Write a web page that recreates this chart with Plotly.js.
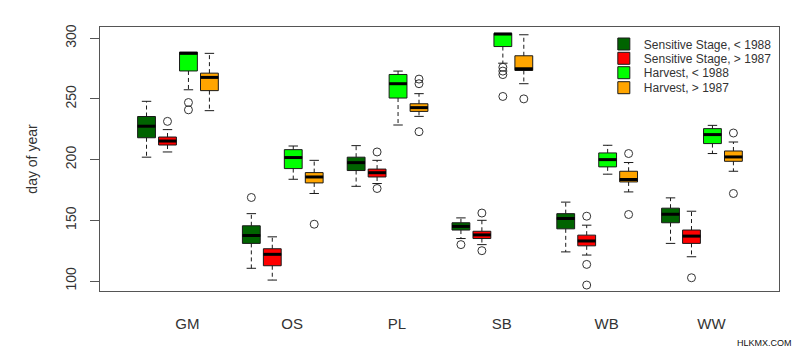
<!DOCTYPE html>
<html>
<head>
<meta charset="utf-8">
<script src="https://cdn.plot.ly/plotly-3.0.1.min.js"></script>
<style>html,body{margin:0;padding:0;background:#fff;}#chart{width:800px;height:353px;}</style>
</head>
<body>
<div id="chart"></div>
<script>
// ---- data ----
const groups = ['GM', 'OS', 'PL', 'SB', 'WB', 'WW'];
const seriesNames = ['Sensitive Stage, &lt; 1988', 'Sensitive Stage, &gt; 1987', 'Harvest, &lt; 1988', 'Harvest, &gt; 1987'];
const seriesColors = ['#006400', '#ff0000', '#00ff00', '#ffa500'];

// Sensitive Stage, < 1988
const sensEarlyLo  = [202.0, 110.5, 178.0, 135.0, 124.0, 131.0];
const sensEarlyQ1  = [218.0, 131.0, 191.0, 142.0, 143.0, 148.0];
const sensEarlyMed = [227.5, 137.5, 197.5, 145.0, 151.5, 155.0];
const sensEarlyQ3  = [235.5, 145.5, 202.0, 148.0, 155.5, 160.0];
const sensEarlyHi  = [248.0, 155.5, 211.5, 152.0, 165.0, 168.5];
const sensEarlyOut = [[], [168.8], [], [130.0], [], []];

// Sensitive Stage, > 1987
const sensLateLo  = [206.3, 100.8, 180.3, 130.0, 121.4, 120.0];
const sensLateQ1  = [212.0, 112.6, 185.7, 135.0, 129.0, 131.0];
const sensLateMed = [215.3, 122.0, 189.2, 138.0, 133.0, 137.0];
const sensLateQ3  = [218.6, 126.6, 192.2, 141.0, 137.8, 142.0];
const sensLateHi  = [224.7, 136.4, 199.4, 150.0, 146.0, 157.5];
const sensLateOut = [[231.5], [], [206.3, 176.2], [156.0, 125.0], [153.4, 113.7, 96.7], [102.7]];

// Harvest, < 1988
const harvEarlyLo  = [257.5, 183.8, 228.5, 279.4, 188.0, 205.0];
const harvEarlyQ1  = [273.0, 192.6, 250.7, 293.1, 194.0, 213.2];
const harvEarlyMed = [287.5, 201.7, 262.5, 303.4, 200.0, 220.6];
const harvEarlyQ3  = [288.5, 208.2, 270.1, 304.0, 205.5, 225.5];
const harvEarlyHi  = [288.5, 211.2, 272.9, 304.0, 211.8, 228.2];
const harvEarlyOut = [[247.0, 241.0], [], [], [276.0, 272.9, 270.0, 252.0], [], []];

// Harvest, > 1987
const harvLateLo  = [240.3, 172.1, 235.6, 262.5, 173.4, 190.4];
const harvLateQ1  = [256.8, 180.8, 239.7, 273.4, 181.6, 198.6];
const harvLateMed = [267.7, 185.7, 242.8, 274.8, 183.6, 202.2];
const harvLateQ3  = [271.2, 189.3, 246.0, 285.5, 190.4, 207.1];
const harvLateHi  = [287.5, 199.4, 254.3, 302.8, 197.6, 214.5];
const harvLateOut = [[], [146.8], [266.3, 262.5, 223.0], [250.0], [205.0, 154.8], [221.9, 172.1]];

const yTicks = [100, 150, 200, 250, 300];

// ---- layout helpers (positions / styles) ----
const series = [
  [sensEarlyLo, sensEarlyQ1, sensEarlyMed, sensEarlyQ3, sensEarlyHi, sensEarlyOut],
  [sensLateLo, sensLateQ1, sensLateMed, sensLateQ3, sensLateHi, sensLateOut],
  [harvEarlyLo, harvEarlyQ1, harvEarlyMed, harvEarlyQ3, harvEarlyHi, harvEarlyOut],
  [harvLateLo, harvLateQ1, harvLateMed, harvLateQ3, harvLateHi, harvLateOut]
];
const offsets = [-0.3, -0.1, 0.1, 0.3];
const boxW = 0.17;
const capHalf = 0.045;
const labelShift = 0.09;
const lineCol = '#1a1a1a';
const legendY = [0.9356, 0.8814, 0.8269, 0.7701];
const legendX = 0.742;

const traces = [];
const legends = {};
series.forEach((s, si) => {
  const [lo, q1, med, q3, hi, out] = s;
  const xs = groups.map((g, gi) => gi + 1 + offsets[si]);
  const lname = si === 0 ? 'legend' : 'legend' + (si + 1);
  traces.push({
    type: 'box', name: seriesNames[si], x: xs,
    q1: q1, median: med, q3: q3, lowerfence: q1, upperfence: q3,
    width: boxW, whiskerwidth: 0, boxpoints: false,
    fillcolor: seriesColors[si], line: {color: lineCol, width: 1},
    hoverinfo: 'skip', legend: lname
  });
  legends[lname] = {
    x: legendX, xanchor: 'left', y: legendY[si], yanchor: 'middle',
    bgcolor: 'rgba(0,0,0,0)', borderwidth: 0, itemwidth: 30,
    font: {family: 'Liberation Sans, Arial, sans-serif', size: 12, color: '#333'}
  };
  // dashed whiskers
  const wx = [], wy = [];
  const cx = [], cy = [];
  const mx = [], my = [];
  xs.forEach((x, i) => {
    if (hi[i] > q3[i]) { wx.push(x, x, null); wy.push(q3[i], hi[i], null); }
    if (lo[i] < q1[i]) { wx.push(x, x, null); wy.push(q1[i], lo[i], null); }
    if (hi[i] > q3[i]) { cx.push(x - capHalf, x + capHalf, null); cy.push(hi[i], hi[i], null); }
    if (lo[i] < q1[i]) { cx.push(x - capHalf, x + capHalf, null); cy.push(lo[i], lo[i], null); }
    mx.push(x - boxW / 2, x + boxW / 2, null); my.push(med[i], med[i], null);
  });
  traces.push({type: 'scatter', mode: 'lines', x: wx, y: wy, showlegend: false, hoverinfo: 'skip',
    line: {color: lineCol, width: 1, dash: '4px,3px'}});
  traces.push({type: 'scatter', mode: 'lines', x: cx, y: cy, showlegend: false, hoverinfo: 'skip',
    line: {color: lineCol, width: 1}});
  traces.push({type: 'scatter', mode: 'lines', x: mx, y: my, showlegend: false, hoverinfo: 'skip',
    line: {color: '#000', width: 3}});
  // outliers
  const ox = [], oy = [];
  xs.forEach((x, i) => { out[i].forEach(v => { ox.push(x); oy.push(v); }); });
  traces.push({type: 'scatter', mode: 'markers', x: ox, y: oy, showlegend: false, hoverinfo: 'skip',
    marker: {symbol: 'circle-open', size: 8, color: '#333', line: {width: 1, color: '#333'}}});
});

const font = 'Liberation Sans, Arial, sans-serif';
const layout = Object.assign({
  width: 800, height: 353,
  margin: {l: 100, r: 21, t: 27, b: 62},
  paper_bgcolor: '#fff', plot_bgcolor: '#fff',
  showlegend: true,
  xaxis: {
    range: [0.256, 6.735], showgrid: false, zeroline: false,
    showline: true, mirror: true, linecolor: '#555', linewidth: 1,
    tickmode: 'array', tickvals: groups.map((g, i) => i + 1 + labelShift), ticktext: groups,
    ticks: '', ticklabelstandoff: 19,
    tickfont: {family: font, size: 15, color: '#333'}
  },
  yaxis: {
    range: [91.8, 309.2], showgrid: false, zeroline: false,
    showline: true, mirror: true, linecolor: '#555', linewidth: 1,
    tickmode: 'array', tickvals: yTicks, ticktext: yTicks.map(String),
    ticks: 'outside', ticklen: 9, tickcolor: '#555', tickangle: -90, ticklabelstandoff: 8,
    tickfont: {family: font, size: 14, color: '#333'},
    title: {text: 'day of year', font: {family: font, size: 14, color: '#333'}, standoff: 22}
  },
  annotations: [{
    text: 'HLKMX.COM', xref: 'paper', yref: 'paper', x: 0.979, y: -0.197,
    xanchor: 'center', yanchor: 'middle', showarrow: false,
    font: {family: 'Liberation Sans Narrow, Liberation Sans, Arial, sans-serif', size: 9, color: '#111'}
  }]
}, legends);

Plotly.newPlot('chart', traces, layout, {staticPlot: true, displayModeBar: false});
</script>
</body>
</html>
